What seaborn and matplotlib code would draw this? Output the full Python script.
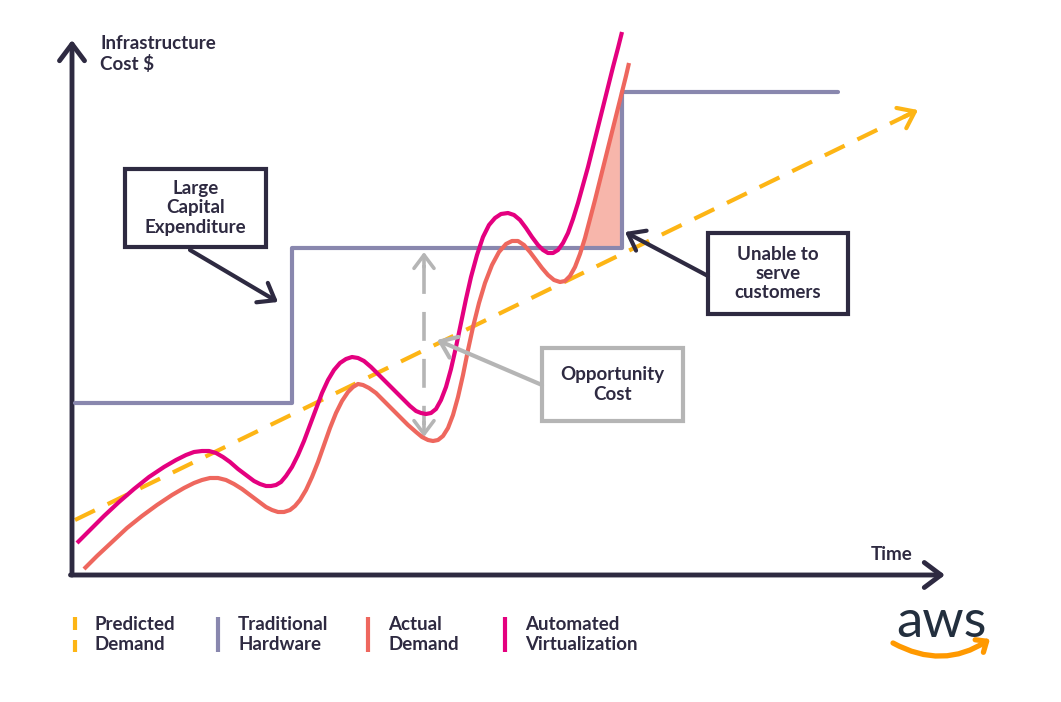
import numpy as np
import seaborn as sns
import matplotlib.pyplot as plt
from matplotlib.patches import Rectangle

sns.set_theme(style='white')
plt.rcParams['font.family'] = ['Lato', 'DejaVu Sans']

# Data (time units along x, cost units along y)
actual_time = [12, 25, 40, 55, 70, 85, 100, 112, 122, 130, 138, 146, 154, 162, 170, 178,
               186, 194, 200, 206, 212, 218, 223, 228, 234, 240, 246, 252, 258, 264, 270,
               276, 281, 286, 291, 297, 304, 312, 320, 328, 336, 344, 350, 356, 361, 366,
               371, 376, 381, 386, 391, 396, 401, 407, 413, 420, 427, 434, 440, 446, 452,
               458, 464, 470, 476, 482, 488, 493, 498, 503, 508, 513, 518, 523, 528, 533,
               538, 543, 550, 554, 557]
actual_cost = [6, 19, 33, 47, 59, 70, 80, 87, 92, 95, 97, 97, 95, 91, 86, 80,
               74, 68, 65, 63, 63, 65, 69, 75, 85, 98, 113, 130, 147, 162, 174,
               183, 188, 191, 190, 187, 182, 174, 166, 158, 150, 143, 138, 135, 134, 135,
               139, 147, 160, 178, 200, 225, 248, 272, 292, 310, 323, 331, 334, 334, 330,
               323, 315, 307, 300, 295, 293, 294, 299, 308, 321, 337, 356, 375, 395, 415,
               435, 455, 483, 499, 512]

virt_time = [5, 18, 32, 47, 62, 77, 92, 104, 114, 122, 130, 137, 144, 151, 158, 166,
             174, 182, 188, 194, 199, 204, 209, 214, 220, 226, 232, 238, 244, 250, 256,
             262, 268, 274, 280, 286, 292, 299, 307, 315, 323, 331, 338, 344, 349, 354,
             359, 364, 369, 374, 379, 384, 389, 394, 399, 405, 411, 417, 423, 429, 436,
             442, 448, 454, 460, 466, 471, 476, 481, 486, 491, 496, 501, 506, 511, 516,
             521, 526, 531, 536, 541, 546, 550]
virt_cost = [32, 45, 59, 73, 86, 98, 108, 115, 120, 123, 124, 124, 122, 118, 113, 106,
             100, 94, 91, 89, 89, 90, 93, 99, 108, 120, 134, 150, 166, 182, 195,
             205, 212, 216, 218, 217, 214, 208, 200, 192, 184, 176, 169, 164, 162, 161,
             162, 166, 175, 188, 206, 228, 252, 276, 298, 320, 338, 350, 357, 361, 362,
             360, 355, 347, 338, 330, 325, 322, 322, 325, 332, 342, 356, 372, 390, 408,
             428, 448, 468, 488, 508, 527, 543]

hardware_time = [3, 220, 550, 766]
hardware_cost = [172, 327, 483, 483]

predicted_time = [3, 846]
predicted_cost = [55, 465]

legend_labels = ['Predicted\nDemand', 'Traditional\nHardware', 'Actual\nDemand',
                 'Automated\nVirtualization']

# Colours
DARK = '#2E2A41'
YELLOW = '#FDB515'
PURPLE = '#8987AE'
SALMON = '#EE675E'
MAGENTA = '#E4007F'
GRAY = '#B5B5B5'
FILL = '#F7B6AB'
FS = 13.5

fig = plt.figure(figsize=(10.61, 7.02), dpi=100)
ax = fig.add_axes([0, 0, 1, 1])
ax.set_xlim(-72, 989)
ax.set_ylim(-127, 575)
ax.axis('off')

arrow_head = '->,head_length=0.6,head_width=0.45'

# Axes with arrow heads
ax.annotate('', xy=(0, 535), xytext=(0, 0),
            arrowprops=dict(arrowstyle=arrow_head, lw=3.5, color=DARK,
                            shrinkA=0, shrinkB=0, mutation_scale=20))
ax.annotate('', xy=(873, 0), xytext=(-1.5, 0),
            arrowprops=dict(arrowstyle=arrow_head, lw=3.5, color=DARK,
                            shrinkA=0, shrinkB=0, mutation_scale=20))
ax.text(28, 540, 'Infrastructure\nCost $', fontsize=FS, fontweight='bold', color=DARK,
        va='top', ha='left', linespacing=1.2)
ax.text(799, 20, 'Time', fontsize=FS, fontweight='bold', color=DARK, ha='left', va='center')

# Predicted demand (dashed with arrow)
sns.lineplot(x=predicted_time, y=predicted_cost, ax=ax, color=YELLOW, lw=3,
             sort=False, zorder=2)
ax.lines[-1].set_dashes((5.3, 3.4))
ax.annotate('', xy=(predicted_time[1], predicted_cost[1]),
            xytext=(predicted_time[1] - 14, predicted_cost[1] - 6.8),
            arrowprops=dict(arrowstyle=arrow_head, lw=3, color=YELLOW,
                            shrinkA=0, shrinkB=0, mutation_scale=18))

# Fill: demand above hardware capacity
at = np.array(actual_time)
ac = np.array(actual_cost)
ax.fill_between(at, ac, hardware_cost[1],
                where=(at >= 495) & (at <= hardware_time[2]) & (ac >= hardware_cost[1]),
                interpolate=True, color=FILL, lw=0, zorder=1)

# Traditional hardware step line
sns.lineplot(x=hardware_time, y=hardware_cost, ax=ax, color=PURPLE, lw=3,
             drawstyle='steps-post', zorder=3)

# Demand curves
sns.lineplot(x=actual_time, y=actual_cost, ax=ax, color=SALMON, lw=3, sort=False,
             zorder=4, solid_joinstyle='round', solid_capstyle='butt')
sns.lineplot(x=virt_time, y=virt_cost, ax=ax, color=MAGENTA, lw=3, sort=False,
             zorder=5, solid_joinstyle='round', solid_capstyle='butt')

# Opportunity cost double arrow
ax.plot([352, 352], [310, 150], color=GRAY, lw=2.6, dashes=(8, 5), zorder=2)
for tip, tail in [(323, 308), (138, 153)]:
    ax.annotate('', xy=(352, tip), xytext=(352, tail),
                arrowprops=dict(arrowstyle=arrow_head, lw=2.6, color=GRAY,
                                shrinkA=0, shrinkB=0, mutation_scale=16))

# Callout boxes
boxes = [
    ((53, 328), 141, 78, 'Large\nCapital\nExpenditure', DARK, (118, 325), (206, 273)),
    ((636, 261), 140, 81, 'Unable to\nserve\ncustomers', DARK, (636, 299), (553, 343)),
    ((470, 154), 141, 73, 'Opportunity\nCost', GRAY, (470, 190), (365, 235)),
]
for (x0, y0), w, h, label, col, tail, head in boxes:
    ax.add_patch(Rectangle((x0, y0), w, h, facecolor='white', edgecolor=col,
                           lw=3, zorder=6))
    ax.text(x0 + w / 2, y0 + h / 2, label, ha='center', va='center', fontsize=FS,
            fontweight='bold', color=DARK, linespacing=1.15, zorder=7)
    ax.annotate('', xy=head, xytext=tail,
                arrowprops=dict(arrowstyle=arrow_head, lw=3, color=col,
                                shrinkA=0, shrinkB=0, mutation_scale=18),
                zorder=6)

# Legend drawn as vertical keys
key_x = [3, 146, 296, 433]
key_cols = [YELLOW, PURPLE, SALMON, MAGENTA]
for i, (kx, col, lab) in enumerate(zip(key_x, key_cols, legend_labels)):
    if i == 0:
        ax.plot([kx, kx], [-42, -55], color=col, lw=3, solid_capstyle='butt')
        ax.plot([kx, kx], [-65, -77], color=col, lw=3, solid_capstyle='butt')
    else:
        ax.plot([kx, kx], [-42, -77], color=col, lw=3, solid_capstyle='butt')
    ax.text(kx + 20, -59.5, lab, ha='left', va='center', fontsize=FS, fontweight='bold',
            color=DARK, linespacing=1.15)

# AWS logo
ax.text(869, -62, 'aws', ha='center', va='baseline', fontsize=38, color='#232F3E')
ax.annotate('', xy=(918, -64), xytext=(821, -68),
            arrowprops=dict(arrowstyle='->,head_length=0.35,head_width=0.3', lw=3.8,
                            color='#FF9900', shrinkA=0, shrinkB=0, mutation_scale=18,
                            connectionstyle='arc3,rad=0.3'))

fig.savefig('out.png', dpi=100)
